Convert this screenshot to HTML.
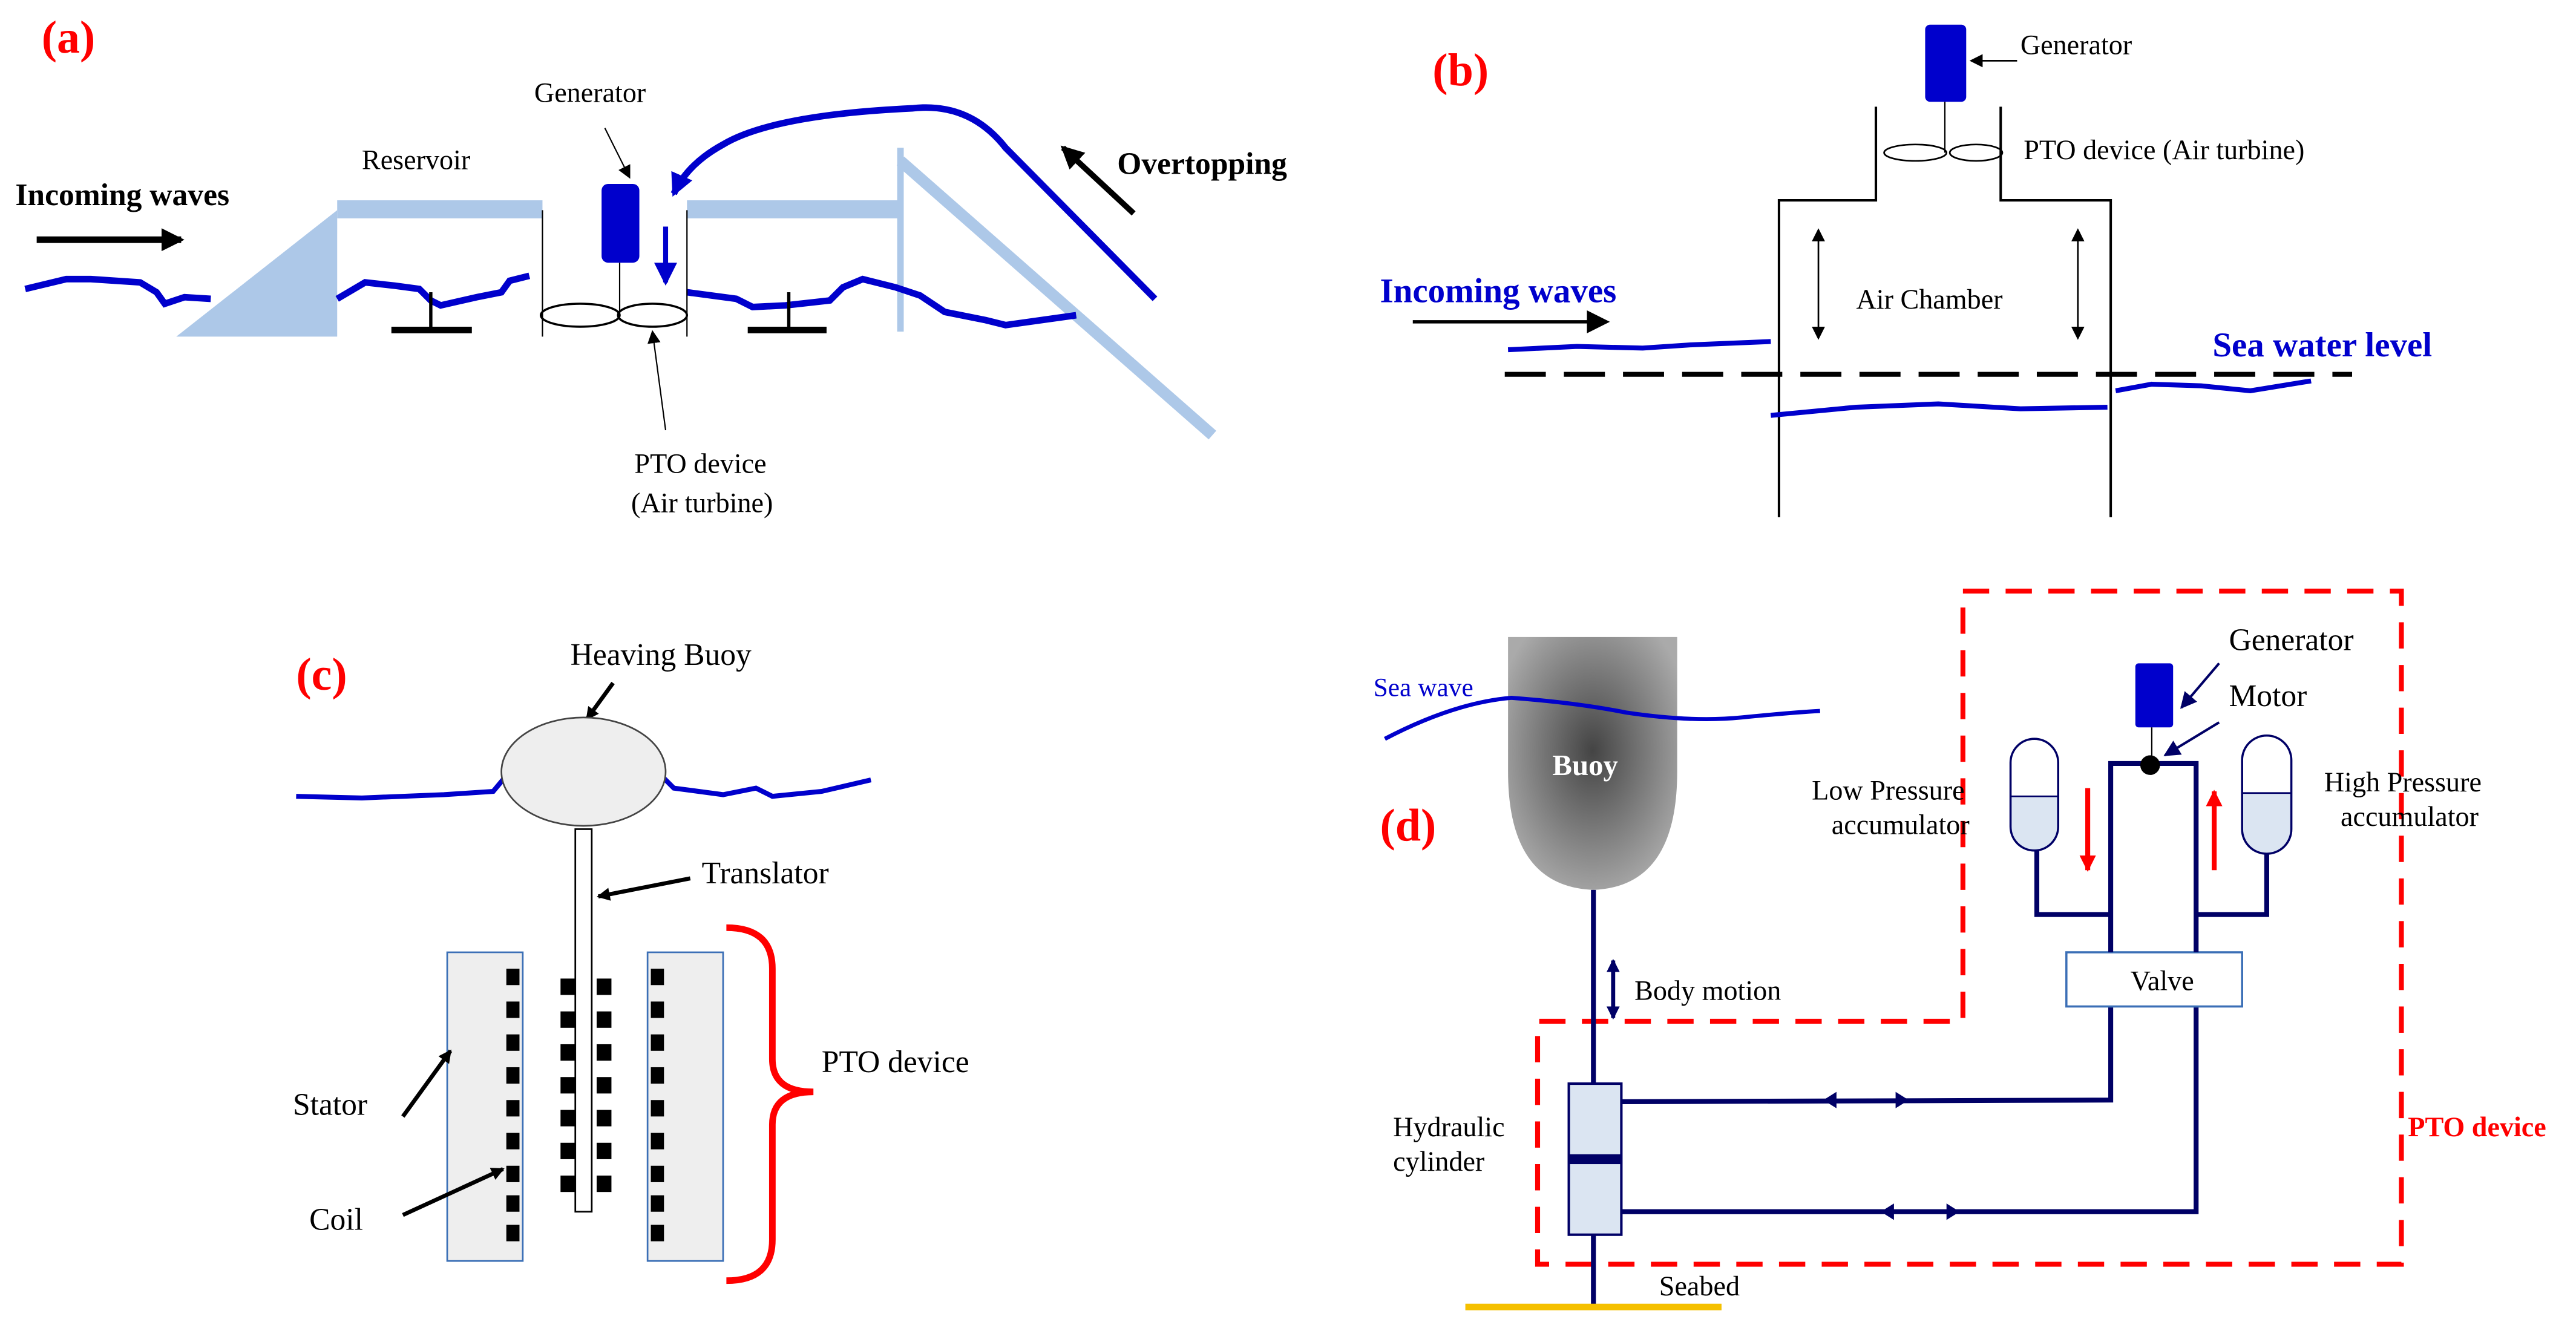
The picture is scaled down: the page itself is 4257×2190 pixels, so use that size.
<!DOCTYPE html>
<html><head><meta charset="utf-8"><style>html,body{margin:0;padding:0;background:#fff}svg{display:block}text{font-family:"Liberation Serif",serif}</style></head>
<body>
<svg width="4257" height="2190" viewBox="0 0 1568 807" xmlns="http://www.w3.org/2000/svg">
<defs>
<marker id="ab" markerWidth="8" markerHeight="8" refX="7" refY="4" orient="auto" markerUnits="userSpaceOnUse"><path d="M0,0 L8,4 L0,8 Z" fill="#000"/></marker>
<marker id="abig" markerWidth="14" markerHeight="14" refX="12" refY="7" orient="auto" markerUnits="userSpaceOnUse"><path d="M0,0 L14,7 L0,14 Z" fill="#000"/></marker>
<marker id="bl" markerWidth="14" markerHeight="14" refX="12" refY="7" orient="auto" markerUnits="userSpaceOnUse"><path d="M0,0 L14,7 L0,14 Z" fill="#0000CC"/></marker>
<marker id="nv" markerWidth="10" markerHeight="10" refX="9" refY="5" orient="auto" markerUnits="userSpaceOnUse"><path d="M0,0 L10,5 L0,10 Z" fill="#000066"/></marker>
<marker id="nvs" markerWidth="8" markerHeight="8" refX="7" refY="4" orient="auto-start-reverse" markerUnits="userSpaceOnUse"><path d="M0,0 L8,4 L0,8 Z" fill="#000066"/></marker>
<marker id="rd" markerWidth="10" markerHeight="12" refX="9" refY="5" orient="auto" markerUnits="userSpaceOnUse"><path d="M0,0 L10,5 L0,10 Z" fill="#f00"/></marker>
<marker id="bk2" markerWidth="8" markerHeight="8" refX="7" refY="4" orient="auto-start-reverse" markerUnits="userSpaceOnUse"><path d="M0,0 L8,4 L0,8 Z" fill="#000"/></marker>
<radialGradient id="gb" cx="0.5" cy="0.45" r="0.6"><stop offset="0" stop-color="#444"/><stop offset="1" stop-color="#aaa"/></radialGradient>
</defs>

<!-- (a) -->
<text x="25" y="32" font-size="28" font-weight="bold" fill="#f00">(a)</text>
<text x="9" y="125" font-size="19" font-weight="bold">Incoming waves</text>
<line x1="22" y1="146" x2="110" y2="146" stroke="#000" stroke-width="4" marker-end="url(#abig)"/>
<path d="M107,205 L205,128 L205,205 Z" fill="#adc8e8"/>
<rect x="205" y="122" width="125" height="11" fill="#adc8e8"/>
<rect x="418" y="122" width="130" height="11" fill="#adc8e8"/>
<line x1="548" y1="90" x2="548" y2="202" stroke="#adc8e8" stroke-width="4"/>
<line x1="548" y1="98" x2="738" y2="265" stroke="#adc8e8" stroke-width="7"/>
<text x="220" y="103" font-size="17">Reservoir</text>
<path d="M15,176 L40,170 L55,170 L85,172 L95,178 L100,185 L112,181 L128,182" fill="none" stroke="#0000CC" stroke-width="4"/>
<path d="M205,182 L222,172 L240,174 L255,176 L262,183 L268,186 L290,181 L305,178 L310,171 L322,168" fill="none" stroke="#0000CC" stroke-width="4"/>
<path d="M418,178 L448,182 L458,187 L478,186 L505,183 L513,175 L525,170 L545,175 L560,180 L575,190 L600,195 L612,198 L655,192" fill="none" stroke="#0000CC" stroke-width="4"/>
<line x1="330" y1="128" x2="330" y2="205" stroke="#000" stroke-width="0.8"/>
<line x1="418" y1="128" x2="418" y2="205" stroke="#000" stroke-width="0.8"/>
<rect x="366" y="112" width="23" height="48" rx="4" fill="#0000CC"/>
<line x1="377" y1="160" x2="377" y2="192" stroke="#000" stroke-width="0.8"/>
<ellipse cx="353" cy="192" rx="24" ry="7" fill="none" stroke="#000" stroke-width="1.3"/>
<ellipse cx="397" cy="192" rx="21" ry="7" fill="none" stroke="#000" stroke-width="1.3"/>
<line x1="405" y1="138" x2="405" y2="172" stroke="#0000CC" stroke-width="3" marker-end="url(#bl)"/>
<path d="M703,182 L612,90 Q590,62 555,66 Q470,70 440,88 Q418,100 410,118" fill="none" stroke="#0000CC" stroke-width="4" marker-end="url(#bl)"/>
<text x="680" y="106" font-size="19" font-weight="bold">Overtopping</text>
<line x1="690" y1="130" x2="647" y2="90" stroke="#000" stroke-width="3.5" marker-end="url(#abig)"/>
<line x1="262" y1="178" x2="262" y2="200" stroke="#000" stroke-width="2"/>
<line x1="238" y1="201" x2="287" y2="201" stroke="#000" stroke-width="4"/>
<line x1="480" y1="178" x2="480" y2="200" stroke="#000" stroke-width="2"/>
<line x1="455" y1="201" x2="503" y2="201" stroke="#000" stroke-width="4"/>
<text x="325" y="62" font-size="17">Generator</text>
<line x1="368" y1="78" x2="383" y2="108" stroke="#000" stroke-width="0.8" marker-end="url(#ab)"/>
<text x="386" y="288" font-size="17">PTO device</text>
<text x="384" y="312" font-size="17">(Air turbine)</text>
<line x1="405" y1="262" x2="397" y2="202" stroke="#000" stroke-width="0.8" marker-end="url(#ab)"/>

<!-- (b) -->
<text x="872" y="52" font-size="28" font-weight="bold" fill="#f00">(b)</text>
<rect x="1172" y="15" width="25" height="47" rx="3" fill="#0000CC"/>
<text x="1230" y="33" font-size="17">Generator</text>
<line x1="1228" y1="37" x2="1200" y2="37" stroke="#000" stroke-width="1" marker-end="url(#ab)"/>
<line x1="1184" y1="62" x2="1184" y2="93" stroke="#000" stroke-width="0.8"/>
<ellipse cx="1166" cy="93" rx="19" ry="5" fill="none" stroke="#000" stroke-width="1"/>
<ellipse cx="1203" cy="93" rx="16" ry="5" fill="none" stroke="#000" stroke-width="1"/>
<path d="M1083,315 V122 H1142 V65 M1218,65 V122 H1285 V315" fill="none" stroke="#000" stroke-width="1.5"/>
<text x="1232" y="97" font-size="17">PTO device (Air turbine)</text>
<text x="1130" y="188" font-size="17">Air Chamber</text>
<line x1="1107" y1="140" x2="1107" y2="206" stroke="#000" stroke-width="1" marker-start="url(#bk2)" marker-end="url(#bk2)"/>
<line x1="1265" y1="140" x2="1265" y2="206" stroke="#000" stroke-width="1" marker-start="url(#bk2)" marker-end="url(#bk2)"/>
<text x="840" y="184" font-size="21" font-weight="bold" fill="#0000CC">Incoming waves</text>
<line x1="860" y1="196" x2="978" y2="196" stroke="#000" stroke-width="2" marker-end="url(#abig)"/>
<path d="M918,213 L960,211 L1000,212 L1030,210 L1078,208" fill="none" stroke="#0000CC" stroke-width="3"/>
<path d="M1078,253 L1130,248 L1180,246 L1230,249 L1283,248" fill="none" stroke="#0000CC" stroke-width="3"/>
<path d="M1288,238 L1310,234 L1340,235 L1370,238 L1407,232" fill="none" stroke="#0000CC" stroke-width="3"/>
<line x1="916" y1="228" x2="1432" y2="228" stroke="#000" stroke-width="3" stroke-dasharray="25,11"/>
<text x="1347" y="217" font-size="21" font-weight="bold" fill="#0000CC">Sea water level</text>

<!-- (c) -->
<text x="180" y="420" font-size="28" font-weight="bold" fill="#f00">(c)</text>
<text x="347" y="405" font-size="19">Heaving Buoy</text>
<line x1="373" y1="416" x2="357" y2="438" stroke="#000" stroke-width="2.5" marker-end="url(#ab)"/>
<path d="M180,485 L220,486 L270,484 L300,482 L310,470 L330,475 M380,475 L400,470 L410,480 L440,484 L460,480 L470,485 L500,482 L530,475" fill="none" stroke="#0000CC" stroke-width="3"/>
<ellipse cx="355" cy="470" rx="50" ry="33" fill="#eee" stroke="#444" stroke-width="1"/>
<rect x="350" y="505" width="10" height="233" fill="#fff" stroke="#000" stroke-width="1"/>
<text x="427" y="538" font-size="19">Translator</text>
<line x1="420" y1="535" x2="364" y2="546" stroke="#000" stroke-width="2.5" marker-end="url(#ab)"/>
<rect x="272" y="580" width="46" height="188" fill="#eee" stroke="#3B6FB6" stroke-width="1"/>
<rect x="394" y="580" width="46" height="188" fill="#eee" stroke="#3B6FB6" stroke-width="1"/>
<g fill="#000">
<rect x="308" y="590" width="8" height="10"/><rect x="308" y="610" width="8" height="10"/><rect x="308" y="630" width="8" height="10"/><rect x="308" y="650" width="8" height="10"/><rect x="308" y="670" width="8" height="10"/><rect x="308" y="690" width="8" height="10"/><rect x="308" y="710" width="8" height="10"/><rect x="308" y="728" width="8" height="10"/><rect x="308" y="746" width="8" height="10"/>
<rect x="396" y="590" width="8" height="10"/><rect x="396" y="610" width="8" height="10"/><rect x="396" y="630" width="8" height="10"/><rect x="396" y="650" width="8" height="10"/><rect x="396" y="670" width="8" height="10"/><rect x="396" y="690" width="8" height="10"/><rect x="396" y="710" width="8" height="10"/><rect x="396" y="728" width="8" height="10"/><rect x="396" y="746" width="8" height="10"/>
<rect x="341" y="596" width="9" height="10"/><rect x="341" y="616" width="9" height="10"/><rect x="341" y="636" width="9" height="10"/><rect x="341" y="656" width="9" height="10"/><rect x="341" y="676" width="9" height="10"/><rect x="341" y="696" width="9" height="10"/><rect x="341" y="716" width="9" height="10"/>
<rect x="363" y="596" width="9" height="10"/><rect x="363" y="616" width="9" height="10"/><rect x="363" y="636" width="9" height="10"/><rect x="363" y="656" width="9" height="10"/><rect x="363" y="676" width="9" height="10"/><rect x="363" y="696" width="9" height="10"/><rect x="363" y="716" width="9" height="10"/>
</g>
<path d="M442,565 Q470,565 470,590 L470,645 Q470,665 495,665 Q470,665 470,685 L470,755 Q470,780 442,780" fill="none" stroke="#f00" stroke-width="4"/>
<text x="500" y="653" font-size="19">PTO device</text>
<text x="178" y="679" font-size="19">Stator</text>
<line x1="245" y1="680" x2="274" y2="640" stroke="#000" stroke-width="2.5" marker-end="url(#ab)"/>
<text x="188" y="749" font-size="19">Coil</text>
<line x1="245" y1="740" x2="306" y2="712" stroke="#000" stroke-width="2.5" marker-end="url(#ab)"/>

<!-- (d) -->
<path d="M1195,360 H1462 V770 H936 V622 H1195 Z" fill="none" stroke="#f00" stroke-width="3" stroke-dasharray="16,10"/>
<text x="840" y="512" font-size="28" font-weight="bold" fill="#f00">(d)</text>
<path d="M918,388 H1021 V470 Q1021,540 970,542 Q918,540 918,470 Z" fill="url(#gb)"/>
<text x="945" y="472" font-size="18" font-weight="bold" fill="#fff">Buoy</text>
<text x="836" y="424" font-size="16" fill="#0000CC">Sea wave</text>
<path d="M843,450 Q885,428 920,425 Q960,428 990,434 Q1030,440 1060,437 Q1090,434 1108,433" fill="none" stroke="#0000CC" stroke-width="2.5"/>
<line x1="970" y1="542" x2="970" y2="797" stroke="#000066" stroke-width="3"/>
<line x1="982" y1="585" x2="982" y2="620" stroke="#000066" stroke-width="2.5" marker-start="url(#nvs)" marker-end="url(#nvs)"/>
<text x="995" y="609" font-size="17">Body motion</text>
<rect x="955" y="660" width="32" height="92" fill="#dbe5f2" stroke="#000066" stroke-width="1.5"/>
<rect x="955" y="703" width="32" height="6" fill="#000066"/>
<path d="M987,671 L1285,670 V613" fill="none" stroke="#000066" stroke-width="3"/>
<path d="M987,738 H1337 V613" fill="none" stroke="#000066" stroke-width="3"/>
<path d="M1110,670 l8,-5 v10 z M1162,670 l-8,-5 v10 z M1145,738 l8,-5 v10 z M1193,738 l-8,-5 v10 z" fill="#000066"/>
<rect x="1258" y="580" width="107" height="33" fill="#fff" stroke="#3B6FB6" stroke-width="1.3"/>
<text x="1297" y="603" font-size="17">Valve</text>
<path d="M1285,580 V465 H1337 V580" fill="none" stroke="#000066" stroke-width="3"/>
<circle cx="1309" cy="466" r="6" fill="#000"/>
<rect x="1300" y="404" width="23" height="39" rx="2" fill="#0000CC"/>
<line x1="1310" y1="443" x2="1310" y2="462" stroke="#000" stroke-width="0.8"/>
<text x="1357" y="396" font-size="19">Generator</text>
<line x1="1351" y1="404" x2="1328" y2="431" stroke="#000066" stroke-width="1.5" marker-end="url(#nv)"/>
<text x="1357" y="430" font-size="19">Motor</text>
<line x1="1351" y1="440" x2="1318" y2="460" stroke="#000066" stroke-width="1.5" marker-end="url(#nv)"/>
<path d="M1224,485 V502 Q1224,518 1238,518 Q1253,518 1253,502 V485 Z" fill="#dbe5f2"/>
<rect x="1224" y="450" width="29" height="68" rx="14.5" fill="none" stroke="#000066" stroke-width="1.3"/>
<line x1="1224" y1="485" x2="1253" y2="485" stroke="#000066" stroke-width="1"/>
<path d="M1365,483 V504 Q1365,520 1380,520 Q1395,520 1395,504 V483 Z" fill="#dbe5f2"/>
<rect x="1365" y="448" width="30" height="72" rx="15" fill="none" stroke="#000066" stroke-width="1.3"/>
<line x1="1365" y1="483" x2="1395" y2="483" stroke="#000066" stroke-width="1"/>
<path d="M1240,518 V557 H1285" fill="none" stroke="#000066" stroke-width="3"/>
<path d="M1380,520 V557 H1337" fill="none" stroke="#000066" stroke-width="3"/>
<line x1="1271" y1="480" x2="1271" y2="530" stroke="#f00" stroke-width="3" marker-end="url(#rd)"/>
<line x1="1348" y1="530" x2="1348" y2="482" stroke="#f00" stroke-width="3" marker-end="url(#rd)"/>
<text x="1103" y="487" font-size="17">Low Pressure</text>
<text x="1115" y="508" font-size="17">accumulator</text>
<text x="1415" y="482" font-size="17">High Pressure</text>
<text x="1425" y="503" font-size="17">accumulator</text>
<text x="848" y="692" font-size="17">Hydraulic</text>
<text x="848" y="713" font-size="17">cylinder</text>
<text x="1466" y="692" font-size="17" font-weight="bold" fill="#f00">PTO device</text>
<text x="1010" y="789" font-size="17">Seabed</text>
<line x1="892" y1="796" x2="1048" y2="796" stroke="#F5C000" stroke-width="4"/>
</svg>
</body></html>
